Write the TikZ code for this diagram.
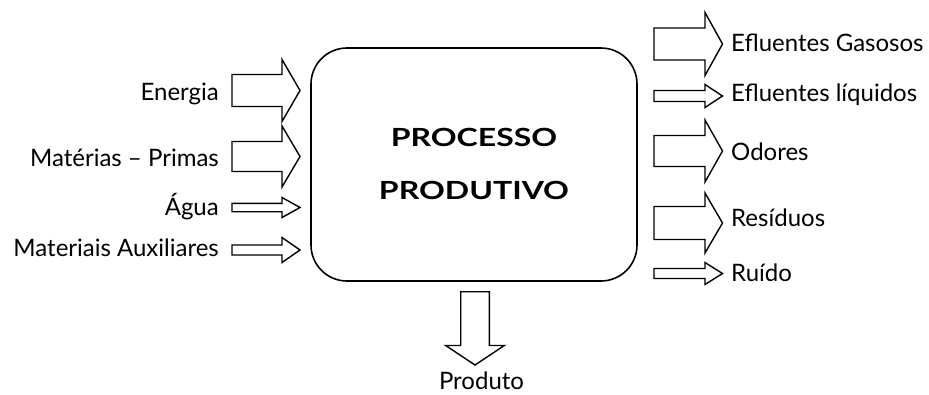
\documentclass[tikz,border=0pt]{standalone}
\usepackage{fontspec}
\setmainfont{Lato}
\newfontfamily\ttlfont[FakeStretch=1.28]{Lato}
\newcommand{\rarr}[6]{\draw[blk] (#1,#3-#4) -- (#2-#6,#3-#4) -- (#2-#6,#3-#5) -- (#2,#3) -- (#2-#6,#3+#5) -- (#2-#6,#3+#4) -- (#1,#3+#4) -- cycle;}
\newcommand{\darr}[6]{\draw[blk] (#3-#4,#1) -- (#3-#4,#2-#6) -- (#3-#5,#2-#6) -- (#3,#2) -- (#3+#5,#2-#6) -- (#3+#4,#2-#6) -- (#3+#4,#1) -- cycle;}
\begin{document}
\begin{tikzpicture}[x=1pt,y=-1pt,
  blk/.style={draw=black,line width=1.4pt,fill=white,line join=miter},
  lbl/.style={font=\fontsize{24}{28}\selectfont,inner sep=0pt},
  ttl/.style={font=\ttlfont\fontsize{25}{30}\selectfont\bfseries,inner sep=0pt}]
\useasboundingbox (0,0) rectangle (929,394);
% main box
\draw[line width=1.6pt,rounded corners=36pt] (311,48) rectangle (637,281);
\node[ttl,anchor=base] (t1) at (474,146) {PROCESSO};
\node[ttl,anchor=base] (t2) at (474,199.5) {PRODUTIVO};
% input arrows
\rarr{232}{300}{90.5}{16}{31}{18}
\rarr{232}{300}{156.5}{15}{30.5}{18}
\rarr{232}{300}{207.5}{4.2}{10}{18}
\rarr{232}{300}{250}{5}{12.5}{18}
\node[lbl,anchor=base east] (e) at (219,100) {Energia};
\node[lbl,anchor=base east] (m) at (219,166) {Matérias – Primas};
\node[lbl,anchor=base east] (a) at (219,215.7) {Água};
\node[lbl,anchor=base east] (x) at (219,256.7) {Materiais Auxiliares};
% output arrows
\rarr{654}{722.5}{44}{16}{31.5}{17.5}
\rarr{654}{722.5}{96}{5.5}{11.5}{17.5}
\rarr{654}{722.5}{151}{15.5}{31}{17.5}
\rarr{654}{722.5}{223}{16.5}{30}{17.5}
\rarr{654}{722.5}{273.5}{5}{11}{17.5}
\node[lbl,anchor=base west] (g) at (731,51.7) {Efluentes Gasosos};
\node[lbl,anchor=base west] (l) at (731,101.7) {Efluentes líquidos};
\node[lbl,anchor=base west] (o) at (731,160) {Odores};
\node[lbl,anchor=base west] (r) at (731,226.7) {Resíduos};
\node[lbl,anchor=base west] (u) at (731,281.7) {Ruído};
% product
\darr{291.7}{365}{475}{14.3}{29.3}{19.5}
\node[lbl,anchor=base] (p) at (481.5,389) {Produto};
\end{tikzpicture}
\end{document}
